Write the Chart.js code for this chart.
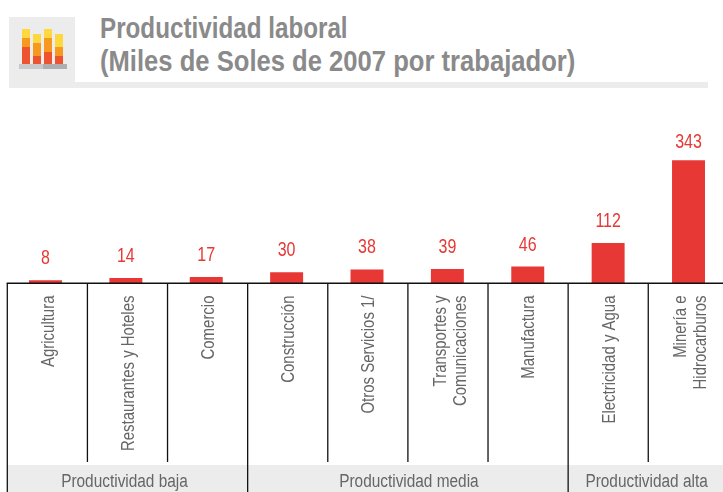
<!DOCTYPE html>
<html><head><meta charset="utf-8">
<style>
html,body{margin:0;padding:0;background:#fff;width:723px;height:492px;overflow:hidden}
#wrap{position:relative;width:723px;height:492px;overflow:hidden}
canvas{position:absolute;left:0;top:0}
#iconbox{position:absolute;left:9px;top:17px;width:66px;height:71px;background:#ececec}
#rule{position:absolute;left:9px;top:82px;width:699px;height:6px;background:#ececec}
.t{position:absolute;left:100px;font:bold 29px/33px "Liberation Sans",sans-serif;color:#8a8a8a;white-space:pre;transform-origin:0 0}
svg{position:absolute;left:0;top:0}
</style></head><body><div id="wrap">
<div id="rule"></div><div id="iconbox"></div>
<svg width="80" height="80">
<rect x="22" y="29" width="8" height="9" fill="#fdd83f"/><rect x="22" y="38" width="8" height="9" fill="#f7981f"/><rect x="22" y="47" width="8" height="17" fill="#ee5330"/>
<rect x="33" y="34" width="8" height="9" fill="#fdd83f"/><rect x="33" y="43" width="8" height="13" fill="#f7981f"/><rect x="33" y="56" width="8" height="8" fill="#ee5330"/>
<rect x="44" y="29" width="8" height="9" fill="#fdd83f"/><rect x="44" y="38" width="8" height="14" fill="#f7981f"/><rect x="44" y="52" width="8" height="12" fill="#ee5330"/>
<rect x="55" y="34" width="8" height="13" fill="#fdd83f"/><rect x="55" y="47" width="8" height="9" fill="#f7981f"/><rect x="55" y="56" width="8" height="8" fill="#ee5330"/>
<rect x="19" y="64" width="24" height="5" fill="#c9c9cc"/><rect x="43" y="64" width="24" height="5" fill="#adadb2"/>
</svg>
<div class="t" style="top:12px;transform:scaleX(.835)">Productividad laboral</div>
<div class="t" style="top:45px;transform:scaleX(.883)">(Miles de Soles de 2007 por trabajador)</div>
<canvas id="c" width="735" height="492"></canvas>
</div>
<script src="https://cdn.jsdelivr.net/npm/chart.js@4"></script>
<script>
const categories=["Agricultura","Restaurantes y Hoteles","Comercio","Construcción","Otros Servicios 1/",["Transportes y","Comunicaciones"],"Manufactura","Electricidad y Agua",["Minería e","Hidrocarburos"]];
const values=[8,14,17,30,38,39,46,112,343];
const groupNames=["Productividad baja","Productividad media","Productividad alta"];
const groupSizes=[3,4,2];
const FONT='"Liberation Sans",sans-serif';
const SX=0.855, RIGHT=723, DIV0=7.3, STEP=80.12;
function squeezed(ctx,txt,x,y,rot,sx){
 ctx.save();ctx.translate(x,y);if(rot)ctx.rotate(-Math.PI/2);ctx.scale(sx,1);ctx.fillText(txt,0,0);ctx.restore();
}
const groups={id:'groups',
 beforeDraw(chart){
  const {ctx}=chart;
  ctx.save();ctx.fillStyle='#ececec';ctx.fillRect(DIV0,465,RIGHT,27);ctx.restore();
 },
 afterDraw(chart){
  const {ctx,chartArea:a}=chart;
  ctx.save();
  ctx.strokeStyle='#111';ctx.lineWidth=1.3;
  for(let i=0;i<=values.length;i++){
   let sum=0,isGroup=false;groupSizes.forEach(n=>{if(sum===i)isGroup=true;sum+=n;});
   const p=DIV0+i*STEP;
   ctx.beginPath();ctx.moveTo(p,a.bottom);ctx.lineTo(p,isGroup?492:462);ctx.stroke();
  }
  ctx.lineWidth=1.5;ctx.beginPath();ctx.moveTo(DIV0-.6,a.bottom+.3);ctx.lineTo(RIGHT,a.bottom+.3);ctx.stroke();
  ctx.fillStyle='#666';ctx.font='17.5px '+FONT;ctx.textAlign='right';ctx.textBaseline='middle';
  categories.forEach((c,i)=>{
   const lines=Array.isArray(c)?c:[c];
   const cx=DIV0+(i+.5)*STEP+(lines.length>1?3:1.5);
   lines.forEach((t,k)=>squeezed(ctx,t,cx+(k-(lines.length-1)/2)*19.5,295.5,true,SX));
  });
  let i=0;
  ctx.textAlign='center';ctx.fillStyle='#666';ctx.font='18px '+FONT;
  const nudge=[-3,1,1];
  groupNames.forEach((g,k)=>{
   const x0=DIV0+i*STEP,x1=DIV0+(i+groupSizes[k])*STEP;
   squeezed(ctx,g,Math.min((x0+x1)/2,(x0+RIGHT)/2)+nudge[k],482,false,SX);
   i+=groupSizes[k];
  });
  ctx.fillStyle='#e53935';ctx.font='20px '+FONT;
  chart.getDatasetMeta(0).data.forEach((b,j)=>squeezed(ctx,String(values[j]),b.x,Math.max(b.y-21.5,142),false,0.8));
  ctx.restore();
 }};
new Chart(document.getElementById('c'),{type:'bar',
 data:{labels:categories,datasets:[{data:values,backgroundColor:'#e73835',categoryPercentage:1,barPercentage:0.41}]},
 options:{responsive:false,animation:false,
  layout:{padding:{left:5.3,right:6.3,top:104,bottom:0}},
  plugins:{legend:{display:false},tooltip:{enabled:false}},
  scales:{
   x:{offset:true,border:{display:false},grid:{display:false},
      ticks:{display:false,autoSkip:false},
      afterFit(s){s.height=209;}},
   y:{display:false,min:0,max:500}
  }},
 plugins:[groups]});
</script></body></html>
